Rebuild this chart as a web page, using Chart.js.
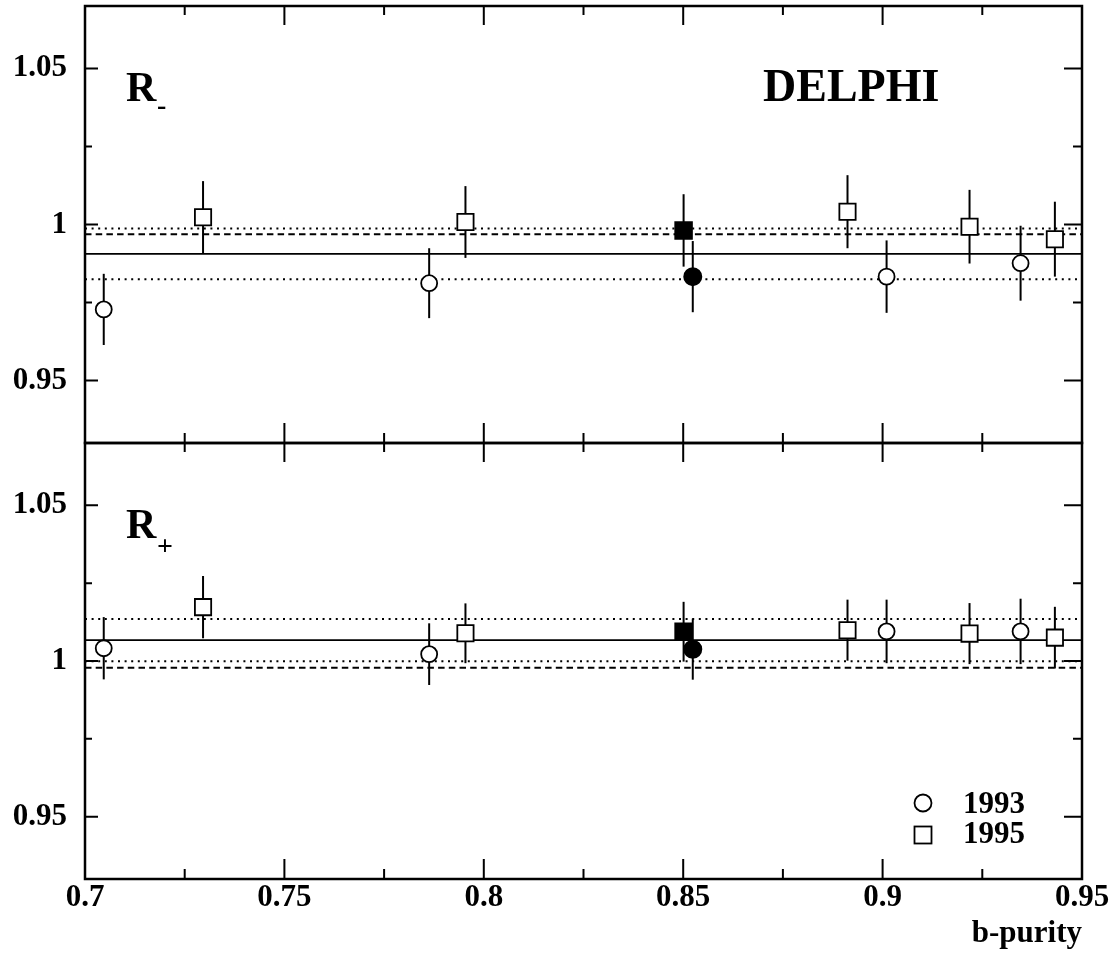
<!DOCTYPE html>
<html>
<head>
<meta charset="utf-8">
<title>R- and R+ versus b-purity</title>
<script src="https://cdn.jsdelivr.net/npm/chart.js@4/dist/chart.umd.min.js"></script>
<style>
    body { margin: 0; background: #ffffff; }
    .panel { position: absolute; left: 0; width: 1117px; }
    #topPanel { top: 0; height: 450px; }
    #bottomPanel { top: 440px; height: 518px; }
</style>
</head>
<body>
<div class="panel" id="topPanel"><canvas id="rMinusChart"></canvas></div>
<div class="panel" id="bottomPanel"><canvas id="rPlusChart"></canvas></div>
<script>
// Axis ranges and ticks
const xMin = 0.7;
const xMax = 0.95;
const yMin = 0.93;
const yMax = 1.07;
const xMajorTicks = [0.7, 0.75, 0.8, 0.85, 0.9, 0.95];
const xMinorTicks = [0.725, 0.775, 0.825, 0.875, 0.925];
const xTickLabels = ['0.7', '0.75', '0.8', '0.85', '0.9', '0.95'];
const yMajorTicks = [0.95, 1, 1.05];
const yMinorTicks = [0.975, 1.025];
const yTickLabels = ['0.95', '1', '1.05'];

// b-purity of each bin
const purity1993 = [0.7047, 0.7863, 0.9010, 0.9346];
const purity1995 = [0.7296, 0.7954, 0.8912, 0.9218, 0.9432];
const purityAll1993 = [0.8524];
const purityAll1995 = [0.8501];

// R- per bin and its error
const rMinus1993 = [0.9728, 0.9812, 0.9833, 0.9876];
const rMinus1993Err = [0.0114, 0.0112, 0.0116, 0.0120];
const rMinus1995 = [1.0023, 1.0008, 1.0041, 0.9993, 0.9953];
const rMinus1995Err = [0.0116, 0.0115, 0.0117, 0.0118, 0.0120];
const rMinusAll1993 = [0.9833];
const rMinusAll1993Err = [0.0114];
const rMinusAll1995 = [0.9981];
const rMinusAll1995Err = [0.0116];

// R+ per bin and its error
const rPlus1993 = [1.0041, 1.0022, 1.0095, 1.0095];
const rPlus1993Err = [0.0100, 0.0099, 0.0102, 0.0105];
const rPlus1995 = [1.0173, 1.0089, 1.0099, 1.0088, 1.0075];
const rPlus1995Err = [0.0100, 0.0096, 0.0098, 0.0098, 0.0099];
const rPlusAll1993 = [1.0038];
const rPlusAll1993Err = [0.0098];
const rPlusAll1995 = [1.0094];
const rPlusAll1995Err = [0.0096];

// Horizontal lines: fitted value, its error band (dotted), expectation (dashed)
const rMinusFit = 0.9906;
const rMinusFitErr = 0.0081;
const rMinusDashed = 0.9969;
const rPlusFit = 1.0067;
const rPlusFitErr = 0.0068;
const rPlusDashed = 0.9978;

const legendYears = ['1993', '1995'];

const FONT = '"Liberation Serif", "Times New Roman", serif';

document.addEventListener('DOMContentLoaded', function() {
    createRMinusChart();
    createRPlusChart();
});

function toPoints(xs, ys) {
    return xs.map((x, i) => ({ x: x, y: ys[i] }));
}

function markerSet(xs, ys, errs, style, radius, fill) {
    return {
        data: toPoints(xs, ys),
        errors: errs,
        pointStyle: style,
        pointRadius: radius,
        pointBackgroundColor: fill,
        pointBorderColor: '#000000',
        pointBorderWidth: 1.8,
        showLine: false,
        order: 0
    };
}

function lineSet(y, dash, width) {
    return {
        data: [{ x: xMin, y: y }, { x: xMax, y: y }],
        showLine: true,
        borderColor: '#000000',
        borderWidth: width,
        borderDash: dash,
        pointRadius: 0,
        order: 5
    };
}

// Vertical error bars, drawn under the markers
const errorBars = {
    id: 'errorBars',
    beforeDatasetsDraw(chart) {
        const { ctx, scales: { x, y } } = chart;
        ctx.save();
        ctx.strokeStyle = '#000000';
        ctx.lineWidth = 2;
        chart.data.datasets.forEach(ds => {
            if (!ds.errors) return;
            ds.data.forEach((p, i) => {
                const px = x.getPixelForValue(p.x);
                ctx.beginPath();
                ctx.moveTo(px, y.getPixelForValue(p.y - ds.errors[i]));
                ctx.lineTo(px, y.getPixelForValue(p.y + ds.errors[i]));
                ctx.stroke();
            });
        });
        ctx.restore();
    }
};

// Box around the panel with inward ticks on all four sides
const frameTicks = {
    id: 'frameTicks',
    afterDatasetsDraw(chart) {
        const { ctx, chartArea: a, scales: { x, y } } = chart;
        ctx.save();
        ctx.strokeStyle = '#000000';
        ctx.lineWidth = 2;
        ctx.beginPath();
        const xTick = (v, len) => {
            const px = x.getPixelForValue(v);
            ctx.moveTo(px, a.top); ctx.lineTo(px, a.top + len);
            ctx.moveTo(px, a.bottom); ctx.lineTo(px, a.bottom - len - 1);
        };
        const yTick = (v, lenL, lenR) => {
            const py = y.getPixelForValue(v);
            ctx.moveTo(a.left, py); ctx.lineTo(a.left + lenL, py);
            ctx.moveTo(a.right, py); ctx.lineTo(a.right - lenR, py);
        };
        xMajorTicks.forEach(v => xTick(v, 19));
        xMinorTicks.forEach(v => xTick(v, 9));
        yMajorTicks.forEach(v => yTick(v, 13, 18));
        yMinorTicks.forEach(v => yTick(v, 7, 9));
        ctx.stroke();
        ctx.lineWidth = 2.5;
        ctx.strokeRect(a.left, a.top, a.right - a.left, a.bottom - a.top);
        ctx.restore();
    }
};

// Panel name, experiment label and year legend
const panelText = {
    id: 'panelText',
    afterDraw(chart, args, opts) {
        const { ctx, chartArea: a } = chart;
        ctx.save();
        ctx.fillStyle = '#000000';
        ctx.strokeStyle = '#000000';
        ctx.textBaseline = 'alphabetic';
        ctx.textAlign = 'left';

        ctx.font = 'bold 42px ' + FONT;
        ctx.fillText('R', a.left + 41, a.top + 95);
        ctx.font = 'bold 28px ' + FONT;
        ctx.fillText(opts.sub, a.left + 72, a.top + opts.subDrop);

        if (opts.experiment) {
            ctx.font = 'bold 46px ' + FONT;
            ctx.fillText(opts.experiment, a.left + 678, a.top + 95);
        }

        if (opts.legend) {
            ctx.lineWidth = 1.8;
            ctx.beginPath();
            ctx.arc(a.left + 838, a.top + 360, 8.5, 0, Math.PI * 2);
            ctx.stroke();
            ctx.strokeRect(a.left + 829.5, a.top + 383.5, 17, 17);
            ctx.font = 'bold 31px ' + FONT;
            ctx.fillText(legendYears[0], a.left + 878, a.top + 370);
            ctx.fillText(legendYears[1], a.left + 878, a.top + 400);
        }
        ctx.restore();
    }
};

function buildPanel(canvasId, s) {
    const ctx = document.getElementById(canvasId);
    if (!ctx) return;

    new Chart(ctx, {
        type: 'scatter',
        data: {
            datasets: [
                markerSet(purity1993, s.y93, s.err93, 'circle', 8, '#ffffff'),
                markerSet(purity1995, s.y95, s.err95, 'rect', 11.5, '#ffffff'),
                markerSet(purityAll1995, s.all95, s.all95Err, 'rect', 11.8, '#000000'),
                markerSet(purityAll1993, s.all93, s.all93Err, 'circle', 8.6, '#000000'),
                lineSet(s.fit, [], 1.8),
                lineSet(s.fit + s.fitErr, [2, 4.6], 2),
                lineSet(s.fit - s.fitErr, [2, 4.6], 2),
                lineSet(s.dashed, [6.5, 4.2], 2)
            ]
        },
        options: {
            responsive: true,
            maintainAspectRatio: false,
            animation: false,
            events: [],
            layout: {
                autoPadding: false,
                padding: { left: 0, right: 35, top: s.padTop, bottom: s.padBottom }
            },
            plugins: {
                legend: { display: false },
                tooltip: { enabled: false },
                panelText: { sub: s.sub, subDrop: s.subDrop, experiment: s.experiment, legend: s.legend }
            },
            scales: {
                x: {
                    type: 'linear',
                    min: xMin,
                    max: xMax,
                    display: s.showX,
                    afterBuildTicks: scale => { scale.ticks = xMajorTicks.map(v => ({ value: v })); },
                    afterFit: scale => {
                        scale.height = s.showX ? 79 : 0;
                        scale.paddingLeft = 0;
                        scale.paddingRight = 0;
                    },
                    grid: { display: false, drawTicks: false },
                    border: { display: false },
                    ticks: {
                        autoSkip: false,
                        maxRotation: 0,
                        padding: 0,
                        color: '#000000',
                        font: { family: FONT, size: 31, weight: 'bold' },
                        callback: (v, i) => xTickLabels[i]
                    },
                    title: {
                        display: true,
                        text: 'b-purity',
                        align: 'end',
                        color: '#000000',
                        padding: { top: 0, bottom: 5 },
                        font: { family: FONT, size: 31, weight: 'bold' }
                    }
                },
                y: {
                    type: 'linear',
                    min: yMin,
                    max: yMax,
                    afterBuildTicks: scale => { scale.ticks = yMajorTicks.map(v => ({ value: v })); },
                    afterFit: scale => {
                        scale.width = 85;
                        scale.paddingTop = 0;
                        scale.paddingBottom = 0;
                    },
                    grid: { display: false, drawTicks: false },
                    border: { display: false },
                    ticks: {
                        padding: 18,
                        color: '#000000',
                        font: { family: FONT, size: 31, weight: 'bold' },
                        callback: (v, i) => yTickLabels[i]
                    }
                }
            }
        },
        plugins: [errorBars, frameTicks, panelText]
    });
}

// Upper panel: R-
function createRMinusChart() {
    buildPanel('rMinusChart', {
        y93: rMinus1993, err93: rMinus1993Err,
        y95: rMinus1995, err95: rMinus1995Err,
        all93: rMinusAll1993, all93Err: rMinusAll1993Err,
        all95: rMinusAll1995, all95Err: rMinusAll1995Err,
        fit: rMinusFit, fitErr: rMinusFitErr, dashed: rMinusDashed,
        sub: '-', subDrop: 108, experiment: 'DELPHI', legend: false,
        showX: false, padTop: 6, padBottom: 7
    });
}

// Lower panel: R+
function createRPlusChart() {
    buildPanel('rPlusChart', {
        y93: rPlus1993, err93: rPlus1993Err,
        y95: rPlus1995, err95: rPlus1995Err,
        all93: rPlusAll1993, all93Err: rPlusAll1993Err,
        all95: rPlusAll1995, all95Err: rPlusAll1995Err,
        fit: rPlusFit, fitErr: rPlusFitErr, dashed: rPlusDashed,
        sub: '+', subDrop: 112, experiment: null, legend: true,
        showX: true, padTop: 3, padBottom: 0
    });
}
</script>
</body>
</html>
